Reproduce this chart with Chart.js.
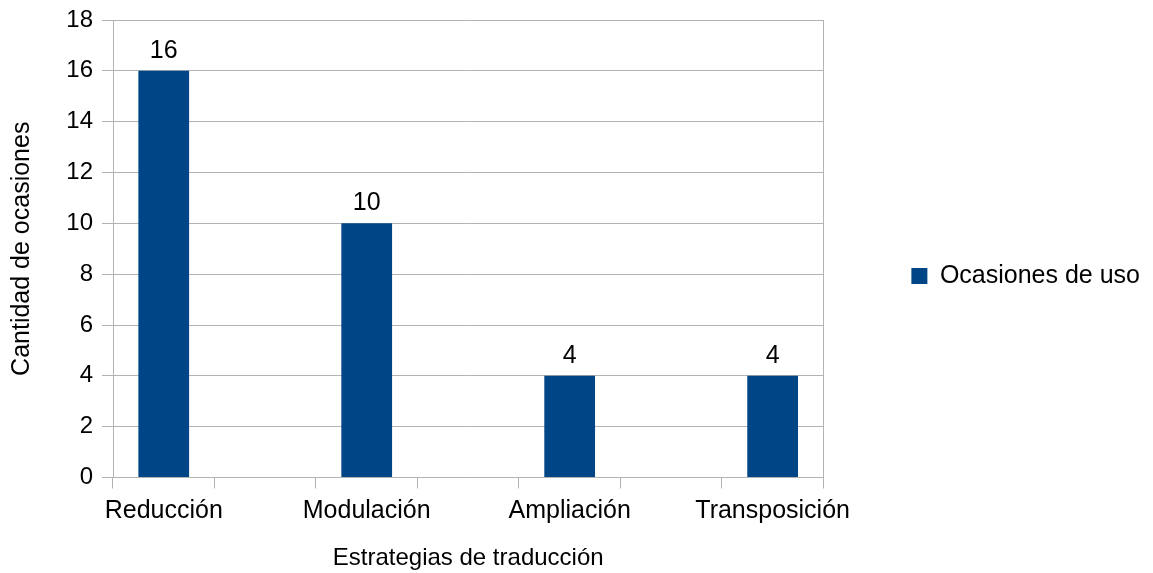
<!DOCTYPE html>
<html>
<head>
<meta charset="utf-8">
<title>Estrategias de traducción</title>
<script src="https://cdn.jsdelivr.net/npm/chart.js@4/dist/chart.umd.min.js"></script>
<style>
  html, body { margin: 0; padding: 0; background: #ffffff; }
  #wrap { width: 1153px; height: 573px; }
</style>
</head>
<body>
<div id="wrap"><canvas id="chart" width="1153" height="573"></canvas></div>
<script>
// Data
const categories = ['Reducción', 'Modulación', 'Ampliación', 'Transposición'];
const ocasiones = [16, 10, 4, 4];
const seriesName = 'Ocasiones de uso';
const yMin = 0;
const yMax = 18;
const yStep = 2;
const xTitle = 'Estrategias de traducción';
const yTitle = 'Cantidad de ocasiones';

// Each strategy after the first gets an empty slot in front of it,
// which gives the wide gap between the bars.
const slotLabels = [];
const slotValues = [];
categories.forEach((name, i) => {
  if (i > 0) { slotLabels.push(''); slotValues.push(null); }
  slotLabels.push(name);
  slotValues.push(ocasiones[i]);
});

const FONT = '"Liberation Sans", Arial, Helvetica, sans-serif';
const BAR = '#004586';
const LINE = '#b3b3b3';

Chart.defaults.font.family = FONT;
Chart.defaults.color = '#000000';

// Writes each bar's value just above it
const valueLabels = {
  id: 'valueLabels',
  afterDatasetsDraw(chart) {
    const ctx = chart.ctx;
    const ds = chart.data.datasets[0];
    const meta = chart.getDatasetMeta(0);
    ctx.save();
    ctx.font = '25px ' + FONT;
    ctx.fillStyle = '#000000';
    ctx.textAlign = 'center';
    ctx.textBaseline = 'alphabetic';
    meta.data.forEach((bar, i) => {
      const v = ds.data[i];
      if (v === null || v === undefined) return;
      ctx.fillText(String(v), bar.x, bar.y - 13);
    });
    ctx.restore();
  }
};

new Chart(document.getElementById('chart'), {
  type: 'bar',
  data: {
    labels: slotLabels,
    datasets: [{
      label: seriesName,
      data: slotValues,
      backgroundColor: BAR,
      borderWidth: 0,
      barPercentage: 0.5,
      categoryPercentage: 1.0
    }]
  },
  plugins: [valueLabels],
  options: {
    responsive: false,
    animation: false,
    events: [],
    layout: { padding: { top: 20, right: 3, bottom: 0, left: 0 } },
    plugins: {
      tooltip: { enabled: false },
      legend: {
        position: 'right',
        fullSize: false,
        maxWidth: 400,
        title: { display: true, text: '', padding: { top: 0, bottom: 40 } },
        labels: {
          boxWidth: 16,
          boxHeight: 16,
          padding: 88,
          font: { size: 25 },
          color: '#000000'
        }
      }
    },
    scales: {
      x: {
        afterFit(scale) { scale.height = 95.5; },
        grid: {
          offset: true,
          drawOnChartArea: true,
          color: (c) => (c.type === 'scale' ? LINE : 'rgba(0,0,0,0)'),
          tickColor: LINE,
          tickLength: 11,
          lineWidth: 1
        },
        border: { display: true, color: LINE, width: 1 },
        ticks: {
          autoSkip: false,
          maxRotation: 0,
          minRotation: 0,
          padding: 8,
          font: { size: 25 },
          color: '#000000'
        },
        title: {
          display: true,
          text: xTitle,
          font: { size: 24 },
          color: '#000000',
          padding: { top: 0, bottom: 0 }
        }
      },
      y: {
        min: yMin,
        max: yMax,
        afterFit(scale) { scale.width = 113; },
        grid: {
          color: LINE,
          tickColor: LINE,
          tickLength: 11,
          lineWidth: 1
        },
        border: { display: true, color: LINE, width: 1 },
        ticks: {
          stepSize: yStep,
          padding: 9,
          font: { size: 24, lineHeight: 0.9 },
          color: '#000000'
        },
        title: {
          display: true,
          text: yTitle,
          font: { size: 25 },
          color: '#000000',
          padding: { top: 7, bottom: 0 }
        }
      }
    }
  }
});
</script>
</body>
</html>
